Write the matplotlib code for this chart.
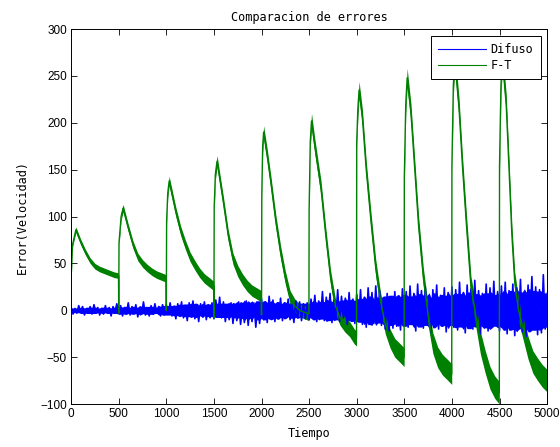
import numpy as np
import pandas as pd
import matplotlib.pyplot as plt

# F-T error, key points (time, value, noise half-width)
ft_time = [0, 15, 50, 100, 150, 200, 250, 300, 350, 400, 450, 498,
           500, 503, 525, 546, 600, 650, 700, 750, 800, 850, 900, 950, 998,
           1000, 1003, 1015, 1030, 1100, 1150, 1200, 1250, 1300, 1350, 1400, 1450, 1498,
           1500, 1503, 1515, 1533, 1600, 1650, 1700, 1750, 1800, 1850, 1900, 1950, 1998,
           2000, 2003, 2012, 2022, 2060, 2100, 2150, 2200, 2250, 2300, 2350, 2400, 2450, 2498,
           2500, 2512, 2525, 2560, 2625, 2675, 2725, 2775, 2825, 2875, 2925, 2975, 2998,
           3000, 3012, 3025, 3060, 3100, 3150, 3200, 3250, 3300, 3350, 3400, 3450, 3498,
           3500, 3515, 3530, 3570, 3610, 3650, 3700, 3750, 3800, 3850, 3900, 3950, 3998,
           4000, 4015, 4030, 4075, 4110, 4150, 4200, 4250, 4300, 4350, 4400, 4450, 4498,
           4500, 4515, 4530, 4570, 4600, 4630, 4660, 4700, 4750, 4800, 4850, 4900, 4950, 5000]
ft_value = [35, 70, 86, 73, 62, 53, 47, 44, 42, 40, 38, 37,
            -3, 72, 100, 109, 88, 70, 57, 50, 45, 41, 38, 36, 34,
            0, 95, 125, 138, 105, 85, 70, 57, 48, 40, 34, 30, 26,
            -8, 110, 145, 159, 115, 80, 55, 42, 33, 26, 21, 18, 15,
            -5, 123, 175, 190, 165, 135, 95, 62, 35, 14, 5, 0, -2, -4,
            107, 180, 202, 175, 130, 80, 35, 5, -8, -15, -20, -28, -30,
            180, 215, 235, 205, 150, 95, 45, 10, -15, -30, -40, -45, -50,
            142, 220, 248, 210, 150, 90, 35, -5, -35, -50, -58, -63, -68,
            155, 240, 268, 215, 155, 95, 25, -5, -35, -55, -72, -82, -88,
            155, 240, 268, 220, 150, 80, 30, 0, -20, -40, -55, -63, -70, -75]
ft_spread = [2, 2, 3, 3, 3, 3, 3, 3, 3, 3, 3, 3,
             2, 3, 4, 4, 4, 4, 4, 4, 4, 4, 4, 4, 4,
             3, 4, 5, 5, 5, 5, 5, 5, 5, 5, 5, 5, 5,
             4, 5, 6, 6, 6, 6, 6, 6, 6, 6, 6, 6, 6,
             5, 6, 7, 7, 7, 7, 7, 7, 7, 7, 7, 7, 7, 7,
             7, 8, 8, 8, 8, 8, 8, 8, 8, 8, 8, 8, 8,
             8, 9, 9, 9, 9, 9, 9, 9, 10, 10, 10, 10, 10,
             9, 10, 10, 10, 10, 10, 10, 11, 11, 11, 11, 11, 11,
             10, 11, 11, 11, 11, 11, 11, 12, 12, 12, 12, 12, 12,
             10, 11, 11, 11, 11, 11, 11, 12, 12, 12, 12, 12, 12, 12]

# Difuso error, one estimated value every 20 time units
difuso_step = 20
difuso_value = [
    3, -4, 2, -3, 5, -2, 4, -5, 1, -3, 4, -4, 6, -2, 3, -5, 2, -4, 5, -3, 3, -6, 4, -2, 7,
    -3, 5, -6, 3, -4, 8, -5, 4, -3, 6, -7, 3, -4, 9, -5, 2, -6, 5, -4, 7, -3, 4, -6, 6, -5,
    6, -4, 8, -6, 3, -9, 7, -5, 9, -8, 4, -11, 8, -6, 10, -9, 5, -12, 7, -7, 9, -10, 6, -8, 8,
    -9, 11, -6, 14, -8, 9, -12, 6, -10, 8, -14, 5, -11, 9, -15, 4, -13, 10, -16, 6, -12, 8, -18, 7, -14,
    12, -10, 9, -13, 15, -8, 11, -12, 7, -9, 13, -11, 8, -7, 12, -10, 6, -13, 10, -8, 9, -11, 7, -9, 8,
    -10, 12, -7, 16, -12, 10, -8, 20, -11, 14, -6, 18, -13, 11, -9, 22, -12, 15, -8, 13, -15, 19, -10, 12, -14,
    17, -12, 22, -15, 14, -18, 24, -10, 19, -14, 26, -9, 21, -16, 13, -20, 18, -22, 12, -19, 20, -17, 15, -21, 23,
    -15, 20, -18, 26, -12, 18, -22, 28, -14, 21, -19, 25, -16, 14, -24, 22, -13, 27, -20, 16, -17, 24, -23, 19, -15,
    25, -18, 22, -21, 30, -14, 19, -24, 27, -16, 23, -20, 32, -13, 21, -25, 18, -19, 28, -22, 24, -17, 31, -15, 20,
    -22, 26, -18, 30, -25, 21, -20, 28, -27, 24, -16, 33, -23, 19, -28, 27, -21, 36, -19, 25, -26, 22, -24, 38, -20, 18,
]
difuso_time = np.arange(len(difuso_value)) * difuso_step

x_ticks = list(range(0, 5001, 500))
y_ticks = list(range(-100, 301, 50))

mono = 'DejaVu Sans Mono'
sans = 'Liberation Sans'

fig = plt.figure(figsize=(5.6, 4.47), dpi=100)
ax = fig.add_axes([0.127, 0.096, 0.85, 0.839])

# dense core of the noise: a share of the local amplitude of the same values
dv = np.array(difuso_value, dtype=float)
core = pd.Series(np.abs(dv)).rolling(5, center=True, min_periods=1).median().to_numpy() * 0.85
ax.fill_between(difuso_time, -core, core, color='#0000ff', linewidth=0)
ax.plot(difuso_time, dv, color='#0000ff', linewidth=1.2, label='Difuso')

ft_t = np.array(ft_time)
ft_v = np.array(ft_value)
ft_s = np.array(ft_spread)
ax.fill_between(ft_t, ft_v - ft_s, ft_v + ft_s, color='#008000', linewidth=0)
ax.plot(ft_t, ft_v, color='#008000', linewidth=1.0, label='F-T')

ax.set_xlim(0, 5000)
ax.set_ylim(-100, 300)
ax.set_xticks(x_ticks)
ax.set_yticks(y_ticks)
ax.tick_params(direction='in', length=4, width=0.6, top=True, right=True,
               labelsize=8.5, pad=3)
for lab in ax.get_xticklabels() + ax.get_yticklabels():
    lab.set_family(sans)
for s in ax.spines.values():
    s.set_linewidth(0.7)

ax.set_title('Comparacion de errores', fontsize=8.6, family=mono, pad=6)
ax.set_xlabel('Tiempo', fontsize=8.6, family=mono, labelpad=5)
ax.set_ylabel('Error(Velocidad)', fontsize=8.6, family=mono, labelpad=8)

leg = ax.legend(loc='upper right', prop={'family': mono, 'size': 8.6},
                handlelength=4, handletextpad=0.4, fancybox=False, framealpha=1,
                edgecolor='black', borderaxespad=0.55, borderpad=0.6,
                labelspacing=0.25)
leg.get_frame().set_linewidth(0.7)
for line in leg.get_lines():
    line.set_linewidth(0.8)

fig.savefig('out.png', dpi=100)
